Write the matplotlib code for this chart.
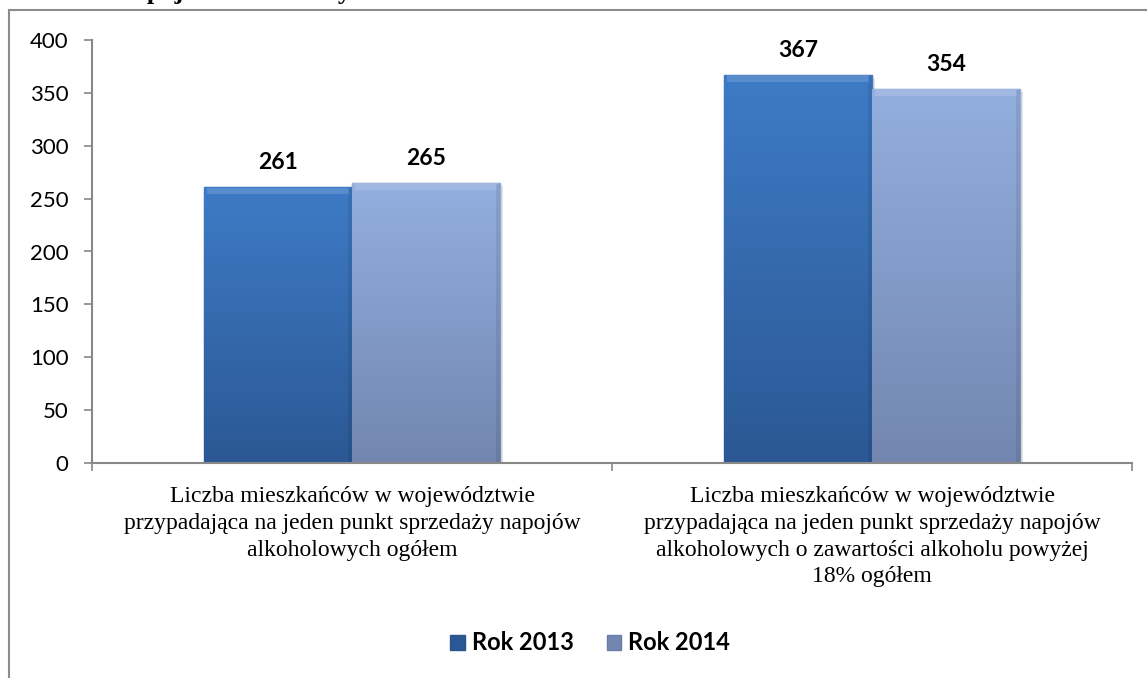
import numpy as np
import matplotlib
matplotlib.use("Agg")
from matplotlib import pyplot as plt
from matplotlib.lines import Line2D
from matplotlib.patches import Patch
from matplotlib.colors import LinearSegmentedColormap

categories = [
    "Liczba mieszkańców w województwie\nprzypadająca na jeden punkt sprzedaży napojów\nalkoholowych ogółem",
    "Liczba mieszkańców w województwie\nprzypadająca na jeden punkt sprzedaży napojów\nalkoholowych o zawartości alkoholu powyżej\n18% ogółem",
]
series_names = ["Rok 2013", "Rok 2014"]
values_2013 = [261, 367]
values_2014 = [265, 354]
yticks = [0, 50, 100, 150, 200, 250, 300, 350, 400]

# top / bottom colours of each series gradient
grad_2013 = ("#3e7bc6", "#2b5894")
grad_2014 = ("#93afdf", "#7286b0")
edge_2013 = "#2a548c"
edge_2014 = "#687ca6"

W, H = 1147, 678
fig = plt.figure(figsize=(W / 100, H / 100), dpi=100)
ax = fig.add_axes([92 / W, 1 - 463 / H, (1132 - 92) / W, (463 - 40) / H])

x = np.arange(len(categories))
bw = 0.285
b1 = ax.bar(x - bw / 2, values_2013, bw, color=grad_2013[0], edgecolor=edge_2013, linewidth=1)
b2 = ax.bar(x + bw / 2, values_2014, bw, color=grad_2014[0], edgecolor=edge_2014, linewidth=1)

ax.set_xlim(-0.5, 1.5)
ax.set_ylim(0, 400)


def shade(bars, cols):
    cmap = LinearSegmentedColormap.from_list("g", [cols[1], cols[0]])
    grad = np.linspace(0, 1, 256).reshape(-1, 1)
    for b in bars:
        x0, y0 = b.get_x(), b.get_y()
        w, h = b.get_width(), b.get_height()
        im = ax.imshow(grad, cmap=cmap, origin="lower", aspect="auto",
                       extent=[x0, x0 + w, y0, y0 + h], zorder=b.get_zorder() + 0.1)
        im.set_clip_path(b)
        # soft bevel: lighter top edge, darker right edge
        ax.fill_between([x0 + w * 0.02, x0 + w * 0.98], y0 + h - 7, y0 + h - 0.5,
                        color="white", alpha=0.14, lw=0, zorder=b.get_zorder() + 0.2)
        ax.fill_between([x0 + w * 0.97, x0 + w], y0, y0 + h - 1,
                        color="black", alpha=0.08, lw=0, zorder=b.get_zorder() + 0.2)
        # shadow
        ax.fill_between([x0 + w, x0 + w + 0.005], y0, y0 + h - 3,
                        color="grey", alpha=0.2, lw=0, zorder=b.get_zorder() - 0.1)


shade(b1, grad_2013)
shade(b2, grad_2014)

for bars, vals in ((b1, values_2013), (b2, values_2014)):
    for b, v in zip(bars, vals):
        ax.annotate(str(v), (b.get_x() + b.get_width() / 2, v), xytext=(0, 10),
                    textcoords="offset points", ha="center", va="bottom",
                    fontsize=16.5, fontweight="bold", family="Lato")

ax.set_yticks(yticks)
ax.set_yticklabels([str(t) for t in yticks], family="Lato", fontsize=16)
ax.tick_params(axis="y", length=6, width=1.2, color="#888888", pad=11)

ax.set_xticks([-0.5, 0.5, 1.5])
ax.set_xticklabels([])
ax.tick_params(axis="x", length=6, width=1.2, color="#888888")
for xi, lab in zip(x, categories):
    ax.text(xi, -21.5, lab, ha="center", va="top", family="Liberation Serif",
            fontsize=17, linespacing=1.37, transform=ax.transData)

for s in ("top", "right"):
    ax.spines[s].set_visible(False)
for s in ("left", "bottom"):
    ax.spines[s].set_color("#888888")
    ax.spines[s].set_linewidth(1.5)

handles = [Patch(facecolor=grad_2013[1], edgecolor=edge_2013),
           Patch(facecolor=grad_2014[1], edgecolor=edge_2014)]
fig.legend(handles, series_names, loc="center", bbox_to_anchor=(590 / W, 1 - 643 / H),
           ncol=2, frameon=False, prop={"family": "Lato", "weight": "bold", "size": 17},
           handlelength=0.6, handleheight=0.6, handletextpad=0.3, columnspacing=1.4)

# outer chart frame (cut at right and bottom) and cut-off title line
fig.add_artist(Line2D([9 / W, 9 / W], [0, 1 - 10 / H], color="#8c8c8c", lw=1.5))
fig.add_artist(Line2D([9 / W, 1], [1 - 10 / H, 1 - 10 / H], color="#8c8c8c", lw=1.5))
fig.text(119 / W, 1 + 1 / H, "napojów alkoholowych", family="Liberation Serif",
         fontweight="bold", fontsize=19, va="baseline", ha="left")

fig.savefig("out.png", dpi=100)
